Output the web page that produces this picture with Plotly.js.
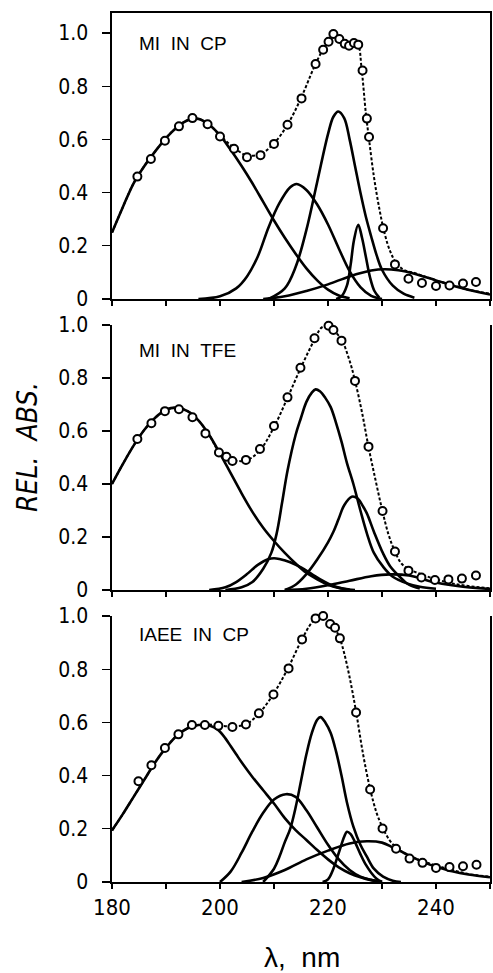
<!DOCTYPE html>
<html>
<head>
<meta charset="utf-8">
<script src="https://cdn.plot.ly/plotly-3.0.1.min.js"></script>
<style>html,body{margin:0;padding:0;background:#fff}#chart{width:493px;height:973px}</style>
</head>
<body>
<div id="chart"></div>
<script>
// ---------- Shared axis data ----------
const xTickVals = [180, 190, 200, 210, 220, 230, 240, 250];
const xTickText = ["180", "", "200", "", "220", "", "240", ""];
const yTickVals = [0, 0.2, 0.4, 0.6, 0.8, 1.0];
const yTickText = ["0", "0.2", "0.4", "0.6", "0.8", "1.0"];
const panelLabels = ["MI IN CP", "MI IN TFE", "IAEE IN CP"];

// ---------- Panel 1: MI IN CP ----------
const p1_c1_x = [180,182,184,186,188,190,192,194,196,198,200,202,204,206,208,210,212,214,216,218,220,222,224];
const p1_c1_y = [0.25,0.345,0.435,0.50,0.555,0.605,0.645,0.672,0.677,0.655,0.615,0.56,0.50,0.435,0.365,0.295,0.23,0.17,0.115,0.07,0.035,0.013,0.003];
const p1_c2_x = [196,200,203,205,207,209,211,213,214.2,216,218,220,222,224,226,228,230];
const p1_c2_y = [0,0.01,0.04,0.085,0.16,0.27,0.36,0.42,0.432,0.41,0.355,0.28,0.19,0.105,0.045,0.012,0];
const p1_c3_x = [209,212,214,216,218,220,221,221.9,223,224,225,226,227,228,229,230,232,234,236];
const p1_c3_y = [0,0.04,0.12,0.26,0.44,0.62,0.685,0.705,0.68,0.6,0.5,0.4,0.31,0.235,0.165,0.11,0.05,0.02,0.005];
const p1_c4_x = [221.5,222.5,223.5,224.2,224.8,225.6,226.3,227,227.8,228.6,229.5];
const p1_c4_y = [0,0.01,0.05,0.13,0.22,0.279,0.23,0.16,0.08,0.03,0.005];
const p1_c5_x = [208,212,216,220,224,228,230.5,233,236,240,244,248,250];
const p1_c5_y = [0,0.01,0.03,0.055,0.085,0.107,0.112,0.108,0.095,0.07,0.045,0.025,0.017];
const p1_sum_x = [180,182,184,186,188,190,192,194,196,198,200,202.5,205,207.5,210,212.5,215,217.5,219,220,221,222,223,224,225,225.6,226.2,227,227.6,228.5,229.5,230.5,231.5,232.5,234,236,238,240,243,246,250];
const p1_sum_y = [0.25,0.345,0.435,0.50,0.555,0.605,0.645,0.672,0.677,0.655,0.615,0.57,0.54,0.545,0.585,0.655,0.755,0.875,0.935,0.965,0.985,0.975,0.96,0.955,0.962,0.955,0.87,0.7,0.6,0.46,0.34,0.245,0.18,0.14,0.11,0.098,0.084,0.07,0.052,0.035,0.02];
const p1_obs_x = [184.7,187.2,189.8,192.4,194.9,197.7,200.0,202.6,205.0,207.5,210.0,212.5,215.1,217.7,219.1,220.1,221.0,222.1,223.1,223.9,224.8,225.6,226.4,227.2,227.6,230.2,232.4,234.9,237.4,240.0,242.5,245.0,247.4];
const p1_obs_y = [0.46,0.526,0.595,0.649,0.68,0.657,0.611,0.565,0.533,0.54,0.583,0.655,0.754,0.883,0.937,0.967,0.996,0.977,0.959,0.952,0.962,0.956,0.859,0.678,0.609,0.266,0.13,0.076,0.060,0.049,0.051,0.058,0.064];

// ---------- Panel 2: MI IN TFE ----------
const p2_c1_x = [180,182,184,186,188,190,192,194,196,198,200,202,204,206,208,210,212,214,216,218,220,222,224];
const p2_c1_y = [0.40,0.475,0.545,0.605,0.65,0.68,0.688,0.675,0.64,0.585,0.515,0.44,0.365,0.295,0.235,0.185,0.14,0.10,0.065,0.04,0.02,0.008,0.002];
const p2_c2_x = [198,201,203,205,207,209,210,211,213,215,217,219,221,223,225];
const p2_c2_y = [0,0.01,0.03,0.06,0.095,0.117,0.12,0.117,0.105,0.085,0.06,0.035,0.015,0.004,0];
const p2_c3_x = [201,204,206,208,209.5,210.5,211.5,212.5,214,215,216,217,217.7,218.5,219.5,220.5,221.5,222.5,223.5,224.7,226,227.2,228.5,230.2,232,234.6,237,240];
const p2_c3_y = [0,0.01,0.03,0.08,0.14,0.214,0.33,0.45,0.585,0.65,0.71,0.745,0.757,0.75,0.725,0.69,0.63,0.56,0.48,0.4,0.3,0.214,0.14,0.088,0.05,0.025,0.012,0.005];
const p2_c4_x = [212,214,216,218,220,221,222,223,224.4,225.5,226.5,227.2,228.5,230.2,231.5,233.3,235,237];
const p2_c4_y = [0,0.02,0.06,0.115,0.18,0.22,0.27,0.32,0.352,0.345,0.315,0.289,0.22,0.138,0.09,0.05,0.02,0.006];
const p2_c5_x = [212,216,220,224,228,231.5,235,240,245,250];
const p2_c5_y = [0,0.005,0.018,0.035,0.052,0.059,0.055,0.028,0.012,0.004];
const p2_sum_x = [180,182,184,186,188,190,192,194,196,198,200,202.5,205,207.5,210,212.5,215,217.5,218.8,220,221,222.5,224,225,226.3,227.5,228.8,230,231.2,232.4,233.6,235,237.5,240,243,246,250];
const p2_sum_y = [0.40,0.475,0.545,0.605,0.65,0.68,0.688,0.675,0.64,0.585,0.518,0.49,0.49,0.53,0.615,0.725,0.84,0.945,0.99,0.995,0.98,0.945,0.865,0.79,0.67,0.54,0.415,0.305,0.21,0.145,0.1,0.078,0.058,0.04,0.025,0.015,0.006];
const p2_obs_x = [184.7,187.3,189.8,192.4,194.9,197.3,199.8,201.2,202.3,204.8,207.4,210.0,212.5,214.9,217.5,218.8,220.1,221.0,222.5,225.0,227.5,230.1,232.4,234.9,237.3,239.8,242.3,244.8,247.4];
const p2_obs_y = [0.570,0.629,0.675,0.682,0.652,0.591,0.519,0.503,0.487,0.491,0.532,0.619,0.727,0.839,0.950,1.003,0.997,0.981,0.941,0.789,0.541,0.298,0.145,0.073,0.047,0.038,0.040,0.043,0.055];

// ---------- Panel 3: IAEE IN CP ----------
const p3_c1_x = [180,182,184,186,188,190,192,194,196,197.5,199,200,201,202,203,204,206,208,210,212,214,216,218,220,222,224,226,228,230];
const p3_c1_y = [0.194,0.255,0.32,0.385,0.45,0.505,0.55,0.578,0.59,0.59,0.58,0.565,0.54,0.51,0.48,0.45,0.395,0.345,0.295,0.24,0.195,0.158,0.12,0.085,0.055,0.033,0.018,0.007,0];
const p3_c2_x = [200,202,204,206,208,210,212.2,214,216,218,220,222,224,226,228,230];
const p3_c2_y = [0,0.04,0.11,0.19,0.26,0.31,0.33,0.32,0.27,0.205,0.14,0.085,0.045,0.02,0.008,0];
const p3_c3_x = [208,210,211,212,213,214,215,216,217,218,218.6,219.5,220.5,221.5,222.5,223.5,224.7,226,227.2,228.5,230.2,232,233.5];
const p3_c3_y = [0,0.05,0.095,0.15,0.2,0.28,0.38,0.48,0.56,0.61,0.62,0.6,0.56,0.49,0.4,0.3,0.208,0.14,0.095,0.05,0.02,0.005,0];
const p3_c4_x = [219,220,221,222,223,223.5,224.2,225,226,227,228,229,230];
const p3_c4_y = [0,0.01,0.05,0.11,0.17,0.189,0.18,0.15,0.105,0.065,0.035,0.012,0];
const p3_c5_x = [204,208,212,216,220,224,227.2,230,232,234,236,238,240,243,246,250];
const p3_c5_y = [0,0.015,0.045,0.085,0.118,0.145,0.153,0.148,0.13,0.11,0.09,0.072,0.058,0.04,0.028,0.018];
const p3_sum_x = [180,182,184,186,188,190,192,194,196,198,200,202.5,205,207.5,210,212.5,215,217,218.5,219.5,220.5,221.5,222.2,223,224,225.2,226.5,227.8,229,230.1,231.3,232.6,234,236,238,240,243,246,250];
const p3_sum_y = [0.194,0.255,0.32,0.385,0.45,0.505,0.55,0.578,0.59,0.592,0.588,0.585,0.595,0.64,0.71,0.8,0.905,0.975,1.0,0.995,0.97,0.945,0.915,0.86,0.77,0.64,0.48,0.35,0.26,0.205,0.16,0.13,0.11,0.09,0.075,0.062,0.045,0.03,0.02];
const p3_obs_x = [184.9,187.3,189.8,192.3,194.8,197.2,199.7,202.3,204.8,207.2,209.9,212.7,215.2,217.7,219.1,220.4,221.3,222.2,225.2,227.8,230.1,232.6,235.1,237.5,240.0,242.5,245.0,247.5];
const p3_obs_y = [0.379,0.439,0.504,0.555,0.590,0.590,0.587,0.583,0.592,0.634,0.705,0.803,0.912,0.991,1.0,0.970,0.956,0.916,0.637,0.348,0.201,0.125,0.088,0.072,0.053,0.056,0.059,0.065];

// ---------- Build traces ----------
const panels = [
  {xa: "x",  ya: "y",  comps: [[p1_c1_x,p1_c1_y],[p1_c2_x,p1_c2_y],[p1_c3_x,p1_c3_y],[p1_c4_x,p1_c4_y],[p1_c5_x,p1_c5_y]], sum: [p1_sum_x,p1_sum_y], obs: [p1_obs_x,p1_obs_y]},
  {xa: "x2", ya: "y2", comps: [[p2_c1_x,p2_c1_y],[p2_c2_x,p2_c2_y],[p2_c3_x,p2_c3_y],[p2_c4_x,p2_c4_y],[p2_c5_x,p2_c5_y]], sum: [p2_sum_x,p2_sum_y], obs: [p2_obs_x,p2_obs_y]},
  {xa: "x3", ya: "y3", comps: [[p3_c1_x,p3_c1_y],[p3_c2_x,p3_c2_y],[p3_c3_x,p3_c3_y],[p3_c4_x,p3_c4_y],[p3_c5_x,p3_c5_y]], sum: [p3_sum_x,p3_sum_y], obs: [p3_obs_x,p3_obs_y]}
];

const traces = [];
panels.forEach(p => {
  p.comps.forEach(c => {
    traces.push({x: c[0], y: c[1], xaxis: p.xa, yaxis: p.ya, type: "scatter", mode: "lines",
      line: {color: "#000", width: 2.6, shape: "spline", smoothing: 1}, showlegend: false, hoverinfo: "skip"});
  });
  traces.push({x: p.sum[0], y: p.sum[1], xaxis: p.xa, yaxis: p.ya, type: "scatter", mode: "lines",
    line: {color: "#000", width: 2, dash: "3px,2px", shape: "spline", smoothing: 1}, showlegend: false, hoverinfo: "skip"});
  traces.push({x: p.obs[0], y: p.obs[1], xaxis: p.xa, yaxis: p.ya, type: "scatter", mode: "markers",
    marker: {symbol: "circle", size: 8, color: "#fff", line: {color: "#000", width: 2}},
    cliponaxis: false, showlegend: false, hoverinfo: "skip"});
});

const tickFont = {family: "Liberation Sans Narrow, DejaVu Sans Condensed, Liberation Sans, sans-serif", size: 21, color: "#000"};

function xAxis(anchor, labels, mirror) {
  return {anchor: anchor, range: [180, 250], showline: true, linecolor: "#000", linewidth: 1.6,
    ticks: "outside", ticklen: 5, tickwidth: 1.3, tickcolor: "#000",
    tickmode: "array", tickvals: xTickVals, ticktext: xTickText, showticklabels: labels,
    tickfont: {family: tickFont.family, size: 22, color: "#000"},
    showgrid: false, zeroline: false, mirror: mirror, fixedrange: true};
}
function yAxis(anchor, range, domain) {
  return {anchor: anchor, range: range, domain: domain, showline: true, linecolor: "#000", linewidth: 1.6,
    ticks: "outside", ticklen: 8, tickwidth: 1.3, tickcolor: "#000",
    tickmode: "array", tickvals: yTickVals, ticktext: yTickText, tickfont: tickFont,
    ticklabelstandoff: 10,
    showgrid: false, zeroline: false, mirror: true, fixedrange: true};
}

const H = 973;
const labelFont = {family: "Liberation Sans, Arial, sans-serif", size: 19, color: "#000"};
const layout = {
  width: 493, height: 973,
  margin: {l: 112, r: 3, t: 0, b: 0},
  paper_bgcolor: "#fff", plot_bgcolor: "#fff",
  showlegend: false,
  xaxis: xAxis("y", false, true),
  xaxis2: xAxis("y2", false, false),
  xaxis3: xAxis("y3", true, false),
  xaxis4: {overlaying: "x", anchor: "y", side: "top", range: [180, 250], showline: true, linecolor: "#000", linewidth: 1.6,
    ticks: "inside", ticklen: 5, tickwidth: 1.3, tickcolor: "#000", tickmode: "array", tickvals: xTickVals,
    showticklabels: false, showgrid: false, zeroline: false, fixedrange: true},
  yaxis: yAxis("x", [0, 1.075], [(H - 299) / H, (H - 13) / H]),
  yaxis2: yAxis("x2", [0, 1.0], [(H - 590) / H, (H - 325) / H]),
  yaxis3: yAxis("x3", [0, 1.0], [(H - 882) / H, (H - 616) / H]),
  annotations: [
    {xref: "x", yref: "y", x: 184.6, y: 0.962, xanchor: "left", yanchor: "middle", showarrow: false,
      text: panelLabels[0].replace(/ /g, "&nbsp;&nbsp;"), font: labelFont},
    {xref: "x2", yref: "y2", x: 184.6, y: 0.902, xanchor: "left", yanchor: "middle", showarrow: false,
      text: panelLabels[1].replace(/ /g, "&nbsp;&nbsp;"), font: labelFont},
    {xref: "x3", yref: "y3", x: 184.6, y: 0.929, xanchor: "left", yanchor: "middle", showarrow: false,
      text: panelLabels[2].replace(/ /g, "&nbsp;&nbsp;"), font: labelFont},
    {xref: "paper", yref: "paper", x: (28 - 112) / 378, y: (H - 447) / H, xanchor: "center", yanchor: "middle",
      showarrow: false, textangle: -90, text: "REL.&nbsp;&nbsp;ABS.",
      font: {family: "Liberation Sans Narrow, DejaVu Sans Condensed, Liberation Sans, sans-serif", size: 28, style: "italic", color: "#000"}},
    {xref: "paper", yref: "paper", x: (302 - 112) / 378, y: (H - 957) / H, xanchor: "center", yanchor: "middle",
      showarrow: false, text: "λ,&nbsp;&nbsp;nm",
      font: {family: "Liberation Sans, Arial, sans-serif", size: 28, color: "#000"}}
  ]
};

Plotly.newPlot("chart", traces, layout, {staticPlot: true, displayModeBar: false});
</script>
</body>
</html>
